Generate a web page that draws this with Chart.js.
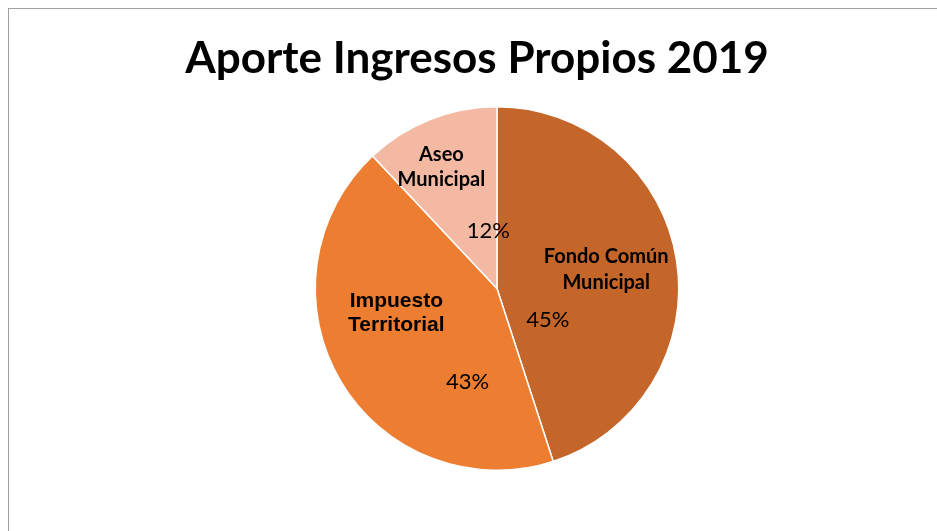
<!DOCTYPE html>
<html>
<head>
<meta charset="utf-8">
<script src="https://cdn.jsdelivr.net/npm/chart.js@4"></script>
<style>
  html, body { margin:0; padding:0; background:#fff; overflow:hidden; }
  #frame { position:absolute; left:8px; top:8px; width:960px; height:560px; border:1px solid #A0A0A0; }
  #wrap { position:absolute; left:0; top:0; width:937px; height:531px; }
</style>
</head>
<body>
<div id="frame"></div>
<div id="wrap"><canvas id="chart"></canvas></div>
<script>
const title = 'Aporte Ingresos Propios 2019';
const labels = ['Fondo Común Municipal', 'Impuesto Territorial', 'Aseo Municipal'];
const labelLines = [['Fondo Común', 'Municipal'], ['Impuesto', 'Territorial'], ['Aseo', 'Municipal']];
const values = [45, 43, 12];
const colors = ['#C4652A', '#ED7D31', '#F4B9A3'];

// label placement relative to each slice: [angle offset from mid (deg), radius fraction]
const namePos = [[-1, 0.61], [17, 0.57], [-3, 0.735]];
const pctPos = [[41, 0.33], [-42, 0.54], [13, 0.32]];
const nameFonts = ['bold 20px Lato', 'bold 21px "Liberation Sans"', 'bold 20px Lato'];
const lineGap = [26, 24, 25];

const labelPlugin = {
  id:'pieLabels',
  afterDraw(chart){
    const c = chart.ctx;
    c.save();
    c.fillStyle = '#000';
    c.textAlign = 'center';
    c.textBaseline = 'middle';
    c.font = 'bold 44px Lato';
    c.fillText(title, 477, 59);
    const total = values.reduce((a, b) => a + b, 0);
    chart.getDatasetMeta(0).data.forEach((arc, i) => {
      const mid = (arc.startAngle + arc.endAngle) / 2;
      const put = (p) => {
        const a = mid + p[0] * Math.PI / 180;
        return [arc.x + Math.cos(a) * arc.outerRadius * p[1], arc.y + Math.sin(a) * arc.outerRadius * p[1]];
      };
      const [nx, ny] = put(namePos[i]);
      c.font = nameFonts[i];
      labelLines[i].forEach((t, k) => c.fillText(t, nx, ny + (k - (labelLines[i].length - 1) / 2) * lineGap[i]));
      const [px, py] = put(pctPos[i]);
      c.font = '22px Lato';
      c.fillText(Math.round(values[i] / total * 100) + '%', px, py);
    });
    c.restore();
  }
};

new Chart(document.getElementById('chart'), {
  type:'pie',
  data:{ labels, datasets:[{ data:values, backgroundColor:colors, borderColor:'#fff', borderWidth:1.5 }] },
  options:{
    responsive:true, maintainAspectRatio:false, animation:false,
    layout:{ padding:{ left:57, right:0, top:106, bottom:60 } },
    plugins:{ legend:{ display:false }, tooltip:{ enabled:false }, title:{ display:false } }
  },
  plugins:[labelPlugin]
});
</script>
</body>
</html>
